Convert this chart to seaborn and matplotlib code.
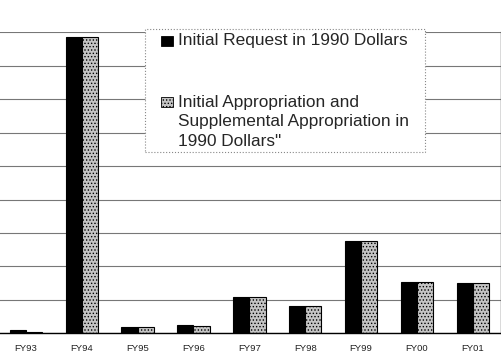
import pandas as pd
import matplotlib.pyplot as plt
import seaborn as sns
from matplotlib.patches import Rectangle

# values (units = one gridline step)
years = ['FY93', 'FY94', 'FY95', 'FY96', 'FY97', 'FY98', 'FY99', 'FY00', 'FY01']
request = [0.09, 8.87, 0.20, 0.24, 1.08, 0.83, 2.75, 1.52, 1.49]
appropriation = [0.05, 8.87, 0.19, 0.22, 1.08, 0.82, 2.75, 1.52, 1.49]
series = ['Initial Request in 1990 Dollars',
          'Initial Appropriation and\nSupplemental Appropriation in\n1990 Dollars"']

df = pd.DataFrame({
    'Year': years * 2,
    'Value': request + appropriation,
    'Series': [series[0]] * len(years) + [series[1]] * len(years),
})

sns.set_theme(style='white')
plt.rcParams['font.family'] = ['Liberation Sans', 'DejaVu Sans']
plt.rcParams['hatch.linewidth'] = 0.6

W, H = 502, 359
fig = plt.figure(figsize=(W / 100, H / 100), dpi=100)

def fx(px):
    return px / W

def fy(py):
    return 1 - py / H

ax = fig.add_axes([fx(-2), fy(333.3), (500.7 + 2) / W, (333.3 - 32.3) / H])

gray = '#c4c4c4'
sns.barplot(data=df, x='Year', y='Value', hue='Series', order=years,
            hue_order=series, palette=['black', gray], width=0.58,
            edgecolor='black', linewidth=0.8, legend=False, ax=ax)
for bar in ax.containers[1]:
    bar.set_hatch('.....')

ax.set_ylim(0, 9)
ax.set_xlim(-0.5, 8.5)
ax.set_yticks(range(0, 10))
ax.set_yticklabels([])
ax.yaxis.grid(True, color='#777777', linewidth=0.8)
ax.set_axisbelow(True)
ax.set_xlabel('')
ax.set_ylabel('')
ax.tick_params(axis='x', length=0, pad=7.5, labelsize=6.8, colors='#222222')
ax.tick_params(axis='y', length=0)
for side in ['top', 'left']:
    ax.spines[side].set_visible(False)
ax.spines['bottom'].set_color('black')
ax.spines['bottom'].set_linewidth(1.0)
ax.spines['right'].set_color('#444444')
ax.spines['right'].set_linewidth(1.0)

# legend drawn by hand so the hatch box sits on the first text line
fig.patches.append(Rectangle((fx(145), fy(152)), (425 - 145) / W, (152 - 29) / H,
                             transform=fig.transFigure, facecolor='white',
                             edgecolor='#888888', linewidth=0.8, linestyle=':'))
fig.patches.append(Rectangle((fx(161), fy(46)), 12 / W, 10 / H,
                             transform=fig.transFigure, facecolor='black',
                             edgecolor='black', linewidth=0.6))
fig.patches.append(Rectangle((fx(161), fy(107.5)), 12 / W, 10 / H,
                             transform=fig.transFigure, facecolor=gray,
                             edgecolor='black', linewidth=0.6, hatch='.....'))
fig.text(fx(177.5), fy(40.5), series[0], fontsize=12.4, va='center', ha='left')
fig.text(fx(177.5), fy(94.5), series[1], fontsize=12.4, va='top', ha='left',
         linespacing=1.4)

fig.savefig('out.png', dpi=100)
